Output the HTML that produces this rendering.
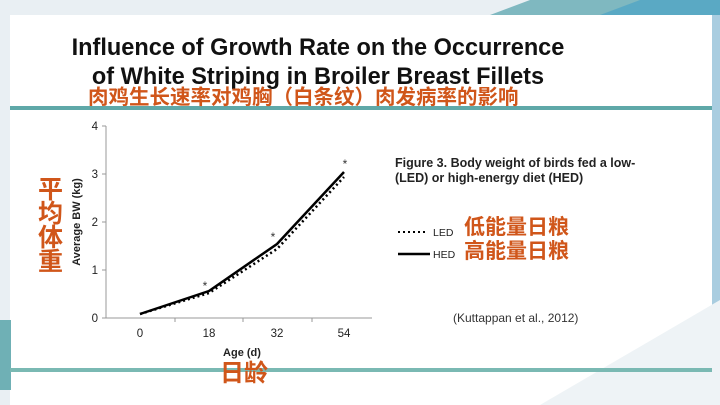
<!DOCTYPE html>
<html><head><meta charset="utf-8"><style>
body{margin:0;width:720px;height:405px;overflow:hidden;background:#e9eff3;position:relative;font-family:"Liberation Sans","Noto Sans CJK SC",sans-serif}
.p{position:absolute}
.cn{font-family:"Liberation Sans","Noto Sans CJK SC",sans-serif;font-weight:bold;color:#d0561a}
</style></head><body>
<svg class="p" style="left:0;top:0" width="720" height="405">
<polygon points="490,15 530,0 720,0 720,60 700,15" fill="#7fb8c0"/>
<polygon points="600,15 640,0 720,0 720,15" fill="#5aa9c4"/>
<polygon points="712,15 720,15 720,405 712,405" fill="#a9cde0"/>
<rect x="10" y="15" width="702" height="395" fill="#fff"/>
<polygon points="540,405 720,300 720,405" fill="#eef3f6"/>
<rect x="0" y="320" width="11" height="70" fill="#6fb0b5"/>
<rect x="10" y="106" width="702" height="4" fill="#5fa8a8"/>
<rect x="10" y="368" width="702" height="4" fill="#7ab9b3"/>
</svg>
<div class="p" style="left:38px;top:33px;width:560px;text-align:center;font-size:24px;font-weight:bold;line-height:29px;color:#111;transform:scaleX(0.98)">Influence of Growth Rate on the Occurrence<br>of White Striping in Broiler Breast Fillets</div>
<div class="p cn" style="left:88px;top:86px;font-size:20.5px;line-height:24px;white-space:nowrap">肉鸡生长速率对鸡胸（白条纹）肉发病率的影响</div>
<svg class="p" style="left:0;top:0" width="720" height="405" font-family="Liberation Sans, sans-serif">
<g stroke="#999" stroke-width="1">
<line x1="106" y1="126" x2="106" y2="318"/><line x1="106" y1="318" x2="372" y2="318"/>
<line x1="102" y1="126" x2="106" y2="126"/><line x1="102" y1="174" x2="106" y2="174"/><line x1="102" y1="222" x2="106" y2="222"/><line x1="102" y1="270" x2="106" y2="270"/><line x1="102" y1="318" x2="106" y2="318"/>
<line x1="175" y1="318" x2="175" y2="322"/><line x1="243" y1="318" x2="243" y2="322"/><line x1="312" y1="318" x2="312" y2="322"/>
</g>
<g font-size="11.5" fill="#222" text-anchor="end">
<text x="98" y="130">4</text><text x="98" y="178">3</text><text x="98" y="226">2</text><text x="98" y="274">1</text><text x="98" y="322">0</text>
</g>
<g font-size="11.5" fill="#222" text-anchor="middle">
<text x="140" y="337">0</text><text x="209" y="337">18</text><text x="277" y="337">32</text><text x="344" y="337">54</text>
<text x="242" y="356" font-weight="bold" font-size="11">Age (d)</text>
</g>
<text transform="translate(80,222) rotate(-90)" font-size="11" font-weight="bold" text-anchor="middle" fill="#222">Average BW (kg)</text>
<polyline points="140,314 209,293 277,249 344,177" fill="none" stroke="#000" stroke-width="2.5" stroke-dasharray="2,3"/>
<polyline points="140,314 209,291 277,244 344,172" fill="none" stroke="#000" stroke-width="2.5"/>
<g font-size="12" fill="#333" text-anchor="middle"><text x="205" y="290">*</text><text x="273" y="241">*</text><text x="345" y="168">*</text></g>
<line x1="398" y1="232" x2="428" y2="232" stroke="#000" stroke-width="2" stroke-dasharray="2,3"/>
<line x1="398" y1="254" x2="430" y2="254" stroke="#000" stroke-width="2.5"/>
<text x="433" y="236" font-size="10.5" fill="#222">LED</text>
<text x="433" y="258" font-size="10.5" fill="#222">HED</text>
<text x="395" y="167" font-size="12.5" font-weight="bold" fill="#222">Figure 3. Body weight of birds fed a low-</text>
<text x="395" y="182" font-size="12.5" font-weight="bold" fill="#222">(LED) or high-energy diet (HED)</text>
<text x="453" y="322" font-size="12" fill="#333">(Kuttappan et al., 2012)</text>
</svg>
<div class="p cn" style="left:464px;top:216px;font-size:21px;line-height:24px">低能量日粮<br>高能量日粮</div>
<div class="p cn" style="left:38px;top:178px;font-size:25px;line-height:24px;width:26px">平均体重</div>
<div class="p cn" style="left:220px;top:359px;font-size:24px;line-height:30px">日龄</div>
</body></html>
